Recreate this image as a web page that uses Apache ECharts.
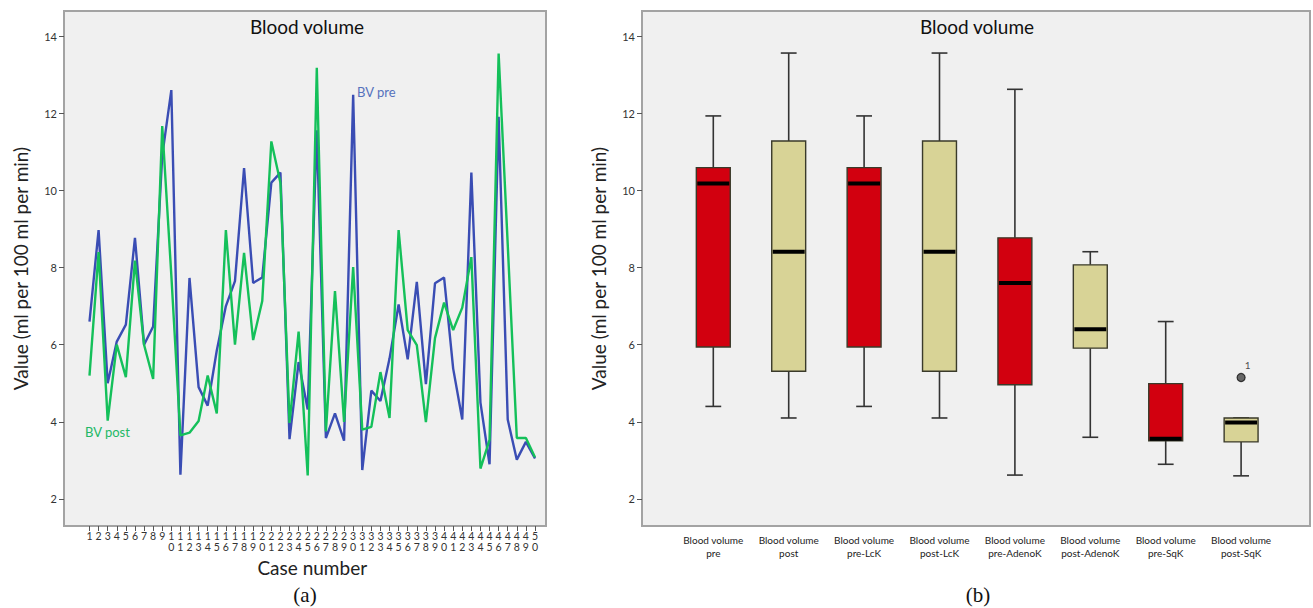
<!DOCTYPE html>
<html><head><meta charset="utf-8">
<script src="https://cdn.jsdelivr.net/npm/echarts@6/dist/echarts.min.js"></script>
<style>html,body{margin:0;padding:0;background:#fff}#c{width:1313px;height:608px}</style>
</head><body><div id="c"></div>
<script>
// ---------- data ----------
const caseLabels = ['1','2','3','4','5','6','7','8','9','10','11','12','13','14','15','16','17','18','19','20',
  '21','22','23','24','25','26','27','28','29','30','31','32','33','34','35','36','37','38','39','40',
  '41','42','43','44','45','46','47','48','49','50'];
const bvPre = [6.60, 8.97, 5.00, 6.08, 6.52, 8.77, 6.00, 6.47, 10.90, 12.60,
  2.63, 7.73, 4.90, 4.42, 5.85, 7.00, 7.65, 10.58, 7.60, 7.74,
  10.20, 10.46, 3.55, 5.55, 4.32, 11.56, 3.58, 4.22, 3.51, 12.48,
  2.75, 4.81, 4.54, 5.64, 7.04, 5.62, 7.63, 4.98, 7.59, 7.74,
  5.38, 4.06, 10.46, 4.50, 2.90, 11.91, 4.06, 3.02, 3.48, 3.05];
const bvPost = [5.20, 8.40, 4.03, 6.00, 5.16, 8.18, 6.00, 5.11, 11.67, 7.80,
  3.65, 3.72, 4.02, 5.20, 4.22, 8.97, 6.00, 8.38, 6.12, 7.13,
  11.27, 10.20, 3.97, 6.34, 2.61, 13.18, 3.75, 7.39, 4.00, 8.01,
  3.80, 3.87, 5.29, 4.10, 8.97, 6.38, 5.99, 3.99, 6.17, 7.09,
  6.38, 6.96, 8.27, 2.79, 3.53, 13.55, 8.60, 3.58, 3.58, 3.08];
const seriesNames = ['BV pre', 'BV post'];

const boxCategories = ['Blood volume\npre', 'Blood volume\npost', 'Blood volume\npre-LcK', 'Blood volume\npost-LcK',
  'Blood volume\npre-AdenoK', 'Blood volume\npost-AdenoK', 'Blood volume\npre-SqK', 'Blood volume\npost-SqK'];
const boxMin    = [4.40, 4.10, 4.40, 4.10, 2.62, 3.60, 2.90, 2.60];
const boxQ1     = [5.94, 5.31, 5.94, 5.31, 4.96, 5.91, 3.51, 3.48];
const boxMedian = [10.18, 8.41, 10.18, 8.41, 7.60, 6.40, 3.56, 3.98];
const boxQ3     = [10.59, 11.28, 10.59, 11.28, 8.77, 8.07, 4.99, 4.10];
const boxMax    = [11.93, 13.56, 11.93, 13.56, 12.62, 8.41, 6.60, 4.10];
const outlierCategory = [7];
const outlierValue = [5.15];
const outlierLabel = ['1'];

const yTickValues = [2, 4, 6, 8, 10, 12, 14];
const yMin = 1.3, yMax = 14.65;

// ---------- style ----------
const FONT = 'Lato';
const BLUE = '#3a4db4', GREEN = '#14c05a';
const RED = '#d2000f', TAN = '#d8d396';
const FRAME = '#a3a3a3', BG = '#f0f0f0';

const boxData = boxCategories.map((c, i) => [i, boxMin[i], boxQ1[i], boxMedian[i], boxQ3[i], boxMax[i]]);
const outlierData = outlierCategory.map((c, i) => ({ value: [c, outlierValue[i]], label: outlierLabel[i] }));

function yAxisVisible(gridIndex) {
  return {
    type: 'value', gridIndex, min: yMin, max: yMax, splitNumber: 7, minInterval: 2, maxInterval: 2,
    axisLine: { show: false },
    axisTick: { show: true, length: 5, lineStyle: { color: '#555', width: 1 } },
    splitLine: { show: false },
    axisLabel: {
      show: true, showMinLabel: false, showMaxLabel: false, margin: 7,
      color: '#333', fontSize: 11, fontFamily: FONT,
      formatter: v => (yTickValues.indexOf(Math.round(v * 1000) / 1000) >= 0 ? String(v) : '')
    },
    name: 'Value (ml per 100 ml per min)', nameLocation: 'middle', nameGap: 34,
    nameTextStyle: { fontSize: 19, color: '#222', fontFamily: FONT }
  };
}
function yAxisHidden(gridIndex) {
  return { type: 'value', gridIndex, min: yMin, max: yMax, show: false, splitLine: { show: false } };
}

function renderBox(params, api) {
  const idx = api.value(0);
  const pMin = api.coord([idx, api.value(1)]);
  const pQ1 = api.coord([idx, api.value(2)]);
  const pMed = api.coord([idx, api.value(3)]);
  const pQ3 = api.coord([idx, api.value(4)]);
  const pMax = api.coord([idx, api.value(5)]);
  const band = api.size([1, 0])[0];
  const bw = band * 0.45, cw = band * 0.21;
  const cx = pMed[0];
  const fill = params.dataIndex % 2 === 0 ? RED : TAN;
  const lineStyle = { stroke: '#333', lineWidth: 1.6 };
  return {
    type: 'group',
    children: [
      { type: 'line', shape: { x1: cx, y1: pMax[1], x2: cx, y2: pQ3[1] }, style: lineStyle },
      { type: 'line', shape: { x1: cx, y1: pQ1[1], x2: cx, y2: pMin[1] }, style: lineStyle },
      { type: 'line', shape: { x1: cx - cw / 2, y1: pMax[1], x2: cx + cw / 2, y2: pMax[1] }, style: lineStyle },
      { type: 'line', shape: { x1: cx - cw / 2, y1: pMin[1], x2: cx + cw / 2, y2: pMin[1] }, style: lineStyle },
      { type: 'rect', shape: { x: cx - bw / 2, y: pQ3[1], width: bw, height: pQ1[1] - pQ3[1] },
        style: { fill, stroke: '#3a3a2a', lineWidth: 1.4 } },
      { type: 'line', shape: { x1: cx - bw / 2 + 1, y1: pMed[1], x2: cx + bw / 2 - 1, y2: pMed[1] },
        style: { stroke: '#000', lineWidth: 4 } }
    ]
  };
}

const chart = echarts.init(document.getElementById('c'), null, { renderer: 'svg' });
chart.setOption({
  backgroundColor: '#fff',
  animation: false,
  grid: [
    { left: 64, top: 11, width: 482, height: 515, show: true, backgroundColor: BG, borderColor: FRAME, borderWidth: 2 },
    { left: 89.5, top: 11, width: 445.5, height: 515, show: false },
    { left: 642, top: 11, width: 668, height: 515, show: true, backgroundColor: BG, borderColor: FRAME, borderWidth: 2 },
    { left: 675.6, top: 11, width: 603.2, height: 515, show: false }
  ],
  xAxis: [
    { type: 'value', gridIndex: 0, min: 0, max: 1, show: false },
    { type: 'category', gridIndex: 1, data: caseLabels, boundaryGap: false,
      axisLine: { show: false },
      axisTick: { show: true, length: 5, interval: 0, lineStyle: { color: '#555', width: 1 } },
      axisLabel: { interval: 0, margin: 4, fontSize: 10.5, lineHeight: 11, color: '#333', fontFamily: FONT,
        formatter: v => v.split('').join('\n'), verticalAlign: 'top' },
      name: 'Case number', nameLocation: 'middle', nameGap: 32,
      nameTextStyle: { fontSize: 19, color: '#222', fontFamily: FONT } },
    { type: 'value', gridIndex: 2, min: 0, max: 1, show: false },
    { type: 'category', gridIndex: 3, data: boxCategories,
      axisLine: { show: false }, axisTick: { show: false },
      axisLabel: { interval: 0, margin: 7, fontSize: 10, lineHeight: 13, color: '#222', fontFamily: FONT } }
  ],
  yAxis: [yAxisVisible(0), yAxisHidden(1), yAxisVisible(2), yAxisHidden(3)],
  graphic: [
    { type: 'text', x: 307, y: 26, style: { text: 'Blood volume', textAlign: 'center', textVerticalAlign: 'middle', font: '19px ' + FONT, fill: '#111' } },
    { type: 'text', x: 977, y: 26, style: { text: 'Blood volume', textAlign: 'center', textVerticalAlign: 'middle', font: '19px ' + FONT, fill: '#111' } },
    { type: 'text', x: 357, y: 92, style: { text: seriesNames[0], textAlign: 'left', textVerticalAlign: 'middle', font: '13px ' + FONT, fill: '#5672bd' } },
    { type: 'text', x: 85, y: 432, style: { text: seriesNames[1], textAlign: 'left', textVerticalAlign: 'middle', font: '13px ' + FONT, fill: '#22b866' } },
    { type: 'text', x: 305, y: 595, style: { text: '(a)', textAlign: 'center', textVerticalAlign: 'middle', font: '21px "Liberation Serif"', fill: '#111' } },
    { type: 'text', x: 978, y: 595, style: { text: '(b)', textAlign: 'center', textVerticalAlign: 'middle', font: '21px "Liberation Serif"', fill: '#111' } }
  ],
  series: [
    { name: seriesNames[0], type: 'line', xAxisIndex: 1, yAxisIndex: 1, data: bvPre, showSymbol: false, symbol: 'none',
      lineStyle: { color: BLUE, width: 2.4 }, z: 3 },
    { name: seriesNames[1], type: 'line', xAxisIndex: 1, yAxisIndex: 1, data: bvPost, showSymbol: false, symbol: 'none',
      lineStyle: { color: GREEN, width: 2.4 }, z: 4 },
    { type: 'custom', xAxisIndex: 3, yAxisIndex: 3, data: boxData, renderItem: renderBox,
      encode: { x: 0, y: [1, 2, 3, 4, 5] }, z: 3 },
    { type: 'scatter', xAxisIndex: 3, yAxisIndex: 3, data: outlierData, symbol: 'circle', symbolSize: 8,
      itemStyle: { color: '#444', borderColor: '#111', borderWidth: 1.2 },
      label: { show: true, formatter: p => p.data.label, position: 'right', offset: [-6, -12], fontSize: 10, color: '#222', fontFamily: FONT },
      z: 5 }
  ]
});
</script></body></html>
